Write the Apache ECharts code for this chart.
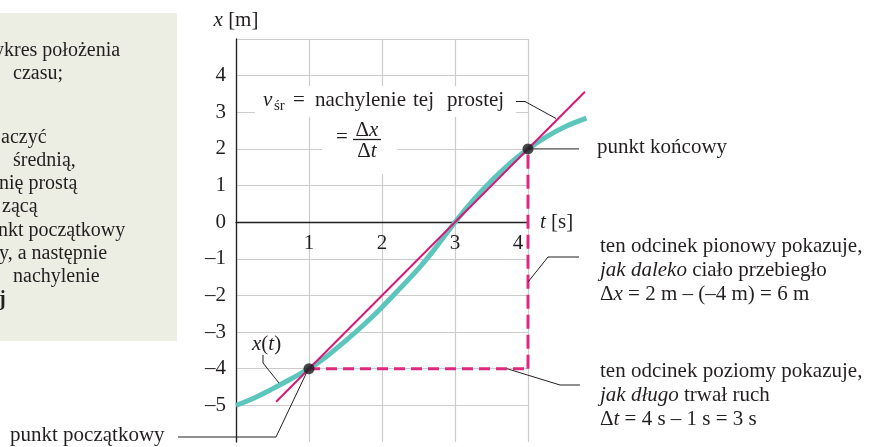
<!DOCTYPE html>
<html>
<head>
<meta charset="utf-8">
<script src="https://cdn.jsdelivr.net/npm/echarts@6/dist/echarts.min.js"></script>
<style>
  html, body { margin: 0; padding: 0; background: #ffffff; }
  #chart { width: 875px; height: 447px; }
</style>
</head>
<body>
<div id="chart"></div>
<script>
// Position x(t) of the body, sampled along the curve
const curveT = [0, 0.25, 0.5, 0.75, 1, 1.25, 1.5, 1.75, 2, 2.25, 2.5, 2.75, 3, 3.25, 3.5, 3.75, 4, 4.25, 4.5, 4.8];
const curveX = [-5, -4.8, -4.55, -4.28, -4, -3.65, -3.24, -2.8, -2.32, -1.8, -1.27, -0.66, 0, 0.6, 1.13, 1.6, 2, 2.33, 2.6, 2.84];

// Start point (1 s, -4 m) and end point (4 s, 2 m)
const endpointT = [1, 4];
const endpointX = [-4, 2];

// Secant through both points, extended a little past them
const secantT = [0.55, 4.78];
const secantX = [-4.9, 3.56];

// Axis ticks
const tTicks = [0, 1, 2, 3, 4];
const xTicks = [-6, -5, -4, -3, -2, -1, 0, 1, 2, 3, 4, 5];
const tTickLabels = ['', '1', '2', '3', '4'];
const xTickLabels = ['', '–5', '–4', '–3', '–2', '–1', '0', '1', '2', '3', '4', ''];

const SERIF = '"Liberation Serif", "Times New Roman", serif';
const INK = '#231f20';
const GRID = '#cccccc';
const TEAL = '#5cc6bc';
const MAGENTA = '#d5197a';
const DASH = '#db2a80';
const FS = 21;

// plot area
const PLOT = { left: 236, top: 39, width: 292, height: 403 };
const X_MIN = xTicks[0], X_MAX = xTicks[xTicks.length - 1];
// lift the time axis from the bottom edge up to x = 0
const zeroOffset = -PLOT.height * (0 - X_MIN) / (X_MAX - X_MIN);

const pair = (a, b) => a.map((v, i) => [v, b[i]]);

const chart = echarts.init(document.getElementById('chart'));

const option = {
  animation: false,
  backgroundColor: '#ffffff',
  grid: [
    Object.assign({ containLabel: false, outerBoundsMode: 'none' }, PLOT),
    Object.assign({ containLabel: false, outerBoundsMode: 'none' }, PLOT, { width: PLOT.width * 5 / 4 })
  ],
  xAxis: [
    {
      gridIndex: 0, type: 'value', position: 'bottom', offset: zeroOffset,
      min: tTicks[0], max: tTicks[tTicks.length - 1], interval: 1,
      axisLine: { onZero: false, lineStyle: { color: INK, width: 1.3 } },
      axisTick: { show: false },
      axisLabel: {
        margin: 11, color: INK, fontFamily: SERIF, fontSize: FS,
        formatter: v => {
          const s = tTickLabels[tTicks.indexOf(v)] || '';
          return v === 4 ? '{shift|' + s + '}' : s;
        },
        rich: { shift: { padding: [0, 20, 0, 0], fontFamily: SERIF, fontSize: FS, color: INK } }
      },
      splitLine: { show: true, lineStyle: { color: GRID, width: 1.2 } },
      name: '{i|t} [s]', nameLocation: 'end', nameGap: 12,
      nameTextStyle: {
        color: INK, fontFamily: SERIF, fontSize: FS,
        rich: { i: { fontStyle: 'italic', fontFamily: SERIF, fontSize: FS, color: INK } }
      }
    },
    { gridIndex: 1, type: 'value', min: 0, max: 5, show: false }
  ],
  yAxis: [
    {
      gridIndex: 0, type: 'value',
      min: X_MIN, max: X_MAX, interval: 1,
      axisLine: { show: true, onZero: false, lineStyle: { color: INK, width: 1.3 } },
      axisTick: { show: false },
      axisLabel: {
        margin: 10, color: INK, fontFamily: SERIF, fontSize: FS,
        formatter: v => xTickLabels[xTicks.indexOf(v)] || ''
      },
      splitLine: {
        show: true,
        lineStyle: { color: xTicks.map(v => (v === X_MIN ? 'rgba(0,0,0,0)' : GRID)), width: 1.2 }
      },
      name: '{i|x} [m]', nameLocation: 'end', nameGap: 8,
      nameTextStyle: {
        color: INK, fontFamily: SERIF, fontSize: FS, align: 'center',
        rich: { i: { fontStyle: 'italic', fontFamily: SERIF, fontSize: FS, color: INK } }
      }
    },
    { gridIndex: 1, type: 'value', min: X_MIN, max: X_MAX, show: false }
  ],
  series: [
    {
      name: 'x(t)', type: 'line', xAxisIndex: 1, yAxisIndex: 1,
      data: pair(curveT, curveX), smooth: 0.35, showSymbol: false,
      lineStyle: { color: TEAL, width: 5 }, z: 2
    },
    {
      name: 'sieczna', type: 'line', xAxisIndex: 1, yAxisIndex: 1,
      data: pair(secantT, secantX), showSymbol: false,
      lineStyle: { color: MAGENTA, width: 2 }, z: 3
    },
    {
      name: 'Δt', type: 'line', xAxisIndex: 1, yAxisIndex: 1,
      data: [[endpointT[0], endpointX[0]], [endpointT[1], endpointX[0]]], showSymbol: false,
      lineStyle: { color: DASH, width: 3, type: [11, 6] }, z: 3
    },
    {
      name: 'Δx', type: 'line', xAxisIndex: 1, yAxisIndex: 1,
      data: [[endpointT[1], endpointX[0]], [endpointT[1], endpointX[1]]], showSymbol: false,
      lineStyle: { color: DASH, width: 3, type: [14, 6] }, z: 3
    },
    {
      name: 'punkty', type: 'scatter', xAxisIndex: 1, yAxisIndex: 1,
      data: pair(endpointT, endpointX), symbolSize: 11,
      itemStyle: { color: '#1c1a1b' }, z: 5
    }
  ]
};

chart.setOption(option);

// Annotation layer: text blocks and thin leader lines
const px = (t, x) => chart.convertToPixel({ xAxisIndex: 1, yAxisIndex: 1 }, [t, x]);
const pStart = px(endpointT[0], endpointX[0]);
const pEnd = px(endpointT[1], endpointX[1]);

function txt(x, y, text, extra) {
  const size = (extra && extra.fontSize) || FS;
  return {
    type: 'text', z: 20, silent: true,
    style: Object.assign({
      x: x, y: y, text: text, fill: INK, fontFamily: SERIF, fontSize: size,
      verticalAlign: 'middle', align: 'left',
      rich: {
        i: { fontStyle: 'italic', fontFamily: SERIF, fontSize: size, fill: INK },
        b: { fontWeight: 'bold', fontFamily: SERIF, fontSize: size, fill: INK }
      }
    }, extra || {})
  };
}
function leader(points) {
  return {
    type: 'polyline', z: 20, silent: true,
    shape: { points: points },
    style: { stroke: INK, lineWidth: 1, fill: null }
  };
}

const PANEL = { fontSize: 20 };

const graphics = [
  // side panel with explanation
  { type: 'rect', z: 1, silent: true, shape: { x: 0, y: 13, width: 177, height: 328 }, style: { fill: '#ecede3' } },
  txt(-6, 51, 'ykres położenia', PANEL),
  txt(13, 74, 'czasu;', PANEL),
  txt(1, 138, 'aczyć', PANEL),
  txt(13, 161, 'średnią,', PANEL),
  txt(-1, 184, 'nię prostą', PANEL),
  txt(2, 207, 'zącą', PANEL),
  txt(-2, 231, 'nkt początkowy', PANEL),
  txt(-1, 254, 'y, a następnie', PANEL),
  txt(13, 277, 'nachylenie', PANEL),
  txt(-1, 300, '{b|j}', PANEL),

  // v_śr label over the grid
  { type: 'rect', z: 15, silent: true, shape: { x: 255, y: 86, width: 261, height: 31 }, style: { fill: '#ffffff' } },
  { type: 'rect', z: 15, silent: true, shape: { x: 322, y: 117, width: 75, height: 57 }, style: { fill: '#ffffff' } },
  txt(263, 100, 'v', { fontStyle: 'italic' }),
  txt(274, 106, 'śr', { fontSize: 15 }),
  txt(293, 100, '='),
  txt(315, 100, 'nachylenie'),
  txt(413, 100, 'tej'),
  txt(447, 100, 'prostej'),
  txt(336, 137, '='),
  txt(367, 130, 'Δ{i|x}', { align: 'center' }),
  { type: 'line', z: 20, silent: true, shape: { x1: 353, y1: 139.5, x2: 381, y2: 139.5 }, style: { stroke: INK, lineWidth: 1.3 } },
  txt(367, 151, 'Δ{i|t}', { align: 'center' }),
  leader([[516, 101.5], [525, 101.5], [556, 118.5]]),

  // x(t) label
  txt(252, 344, '{i|x}({i|t})'),
  leader([[263, 355], [263, 363], [279, 383]]),

  // end point
  leader([[pEnd[0], pEnd[1]], [579, pEnd[1]]]),
  txt(597, 147, 'punkt końcowy'),

  // vertical segment
  leader([[pEnd[0], 282], [548, 257], [579, 257]]),
  txt(600, 246, 'ten odcinek pionowy pokazuje,'),
  txt(600, 270, '{i|jak daleko} ciało przebiegło'),
  txt(600, 294, 'Δ{i|x} = 2 m – (–4 m) = 6 m'),

  // horizontal segment
  leader([[507, pStart[1]], [560, 385], [580, 385]]),
  txt(600, 371, 'ten odcinek poziomy pokazuje,'),
  txt(600, 395, '{i|jak długo} trwał ruch'),
  txt(600, 419, 'Δ{i|t} = 4 s – 1 s = 3 s'),

  // start point
  leader([[178, 437], [276, 437], [pStart[0] - 2, pStart[1] + 3]]),
  txt(10, 435, 'punkt początkowy')
];

chart.setOption({ graphic: { elements: graphics } });
</script>
</body>
</html>
